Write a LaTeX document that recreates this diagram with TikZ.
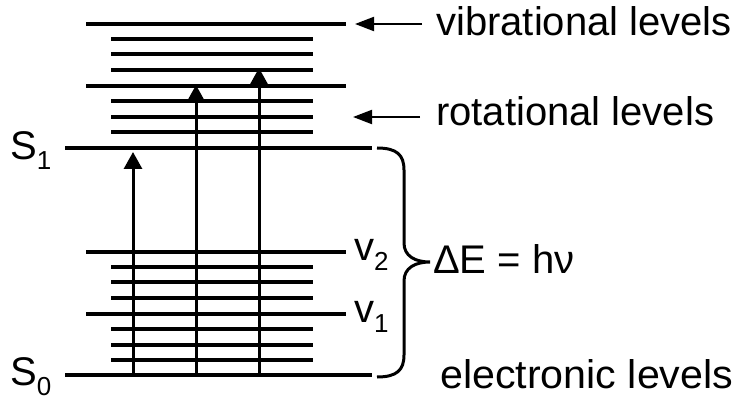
\documentclass[tikz,border=0pt]{standalone}
\usepackage{fontspec}
\setmainfont{Liberation Sans}
\usetikzlibrary{arrows.meta}
\tikzset{
  lvl/.style={line width=3.3pt},
  elec/.style={line width=4.3pt},
  absarrow/.style={line width=3pt, -{Triangle[width=18pt,length=17pt]}},
  ptr/.style={line width=2pt, -{Triangle[width=14pt,length=19pt]}},
  lbl/.style={anchor=base west, inner sep=0pt, font=\fontsize{40}{40}\selectfont},
  big/.style={anchor=base west, inner sep=0pt, font=\fontsize{40}{40}\selectfont},
  bracestyle/.style={line width=3pt},
}
\newcommand{\subx}[1]{\raisebox{-10pt}{\fontsize{26}{26}\selectfont #1}}
\begin{document}
\begin{tikzpicture}[x=1pt,y=-1pt]
\useasboundingbox (0,0) rectangle (750,401);
% electronic levels
\draw[elec] (65,148) -- (372,148);
\draw[elec] (65,375) -- (372,375);
% vibrational levels (long lines)
\foreach \y in {24,86,252,314} \draw[lvl] (86,\y) -- (346,\y);
% rotational levels (short lines)
\foreach \y in {39,54,70,101,117,132,267,282,298,329,345,360} \draw[lvl] (111,\y) -- (313,\y);
% absorption arrows
\coordinate (a1s) at (133,375); \coordinate (a1e) at (133,152);
\coordinate (a2s) at (196,375); \coordinate (a2e) at (196,85);
\coordinate (a3s) at (259,375); \coordinate (a3e) at (259,68);
\draw[absarrow] (a1s) -- (a1e);
\draw[absarrow] (a2s) -- (a2e);
\draw[absarrow] (a3s) -- (a3e);
% pointer arrows
\coordinate (p1s) at (422,24); \coordinate (p1e) at (355,24);
\coordinate (p2s) at (420,117); \coordinate (p2e) at (353,117);
\draw[ptr] (p1s) -- (p1e);
\draw[ptr] (p2s) -- (p2e);
% brace
\draw[bracestyle] (377,148) .. controls (397,148) and (404,155) .. (404,170)
  -- (404,243) .. controls (404,256) and (415,262) .. (430,262)
  .. controls (415,262) and (404,268) .. (404,281)
  -- (404,355) .. controls (404,370) and (397,377) .. (377,377);
% labels
\node[lbl] (vib) at (436,36) {vibrational levels};
\node[lbl] (rot) at (436,126) {rotational levels};
\node[lbl] (ele) at (440,388) {\scalebox{1.03}[1]{electronic levels}};
\node[big] (de) at (433,273) {ΔE = hν};
\node[big] (s1) at (10,160) {S\subx{1}};
\node[big] (s0) at (10,385) {S\subx{0}};
\node[big] (v2) at (354,260) {v\subx{2}};
\node[big] (v1) at (354,322) {v\subx{1}};
\end{tikzpicture}
\end{document}
